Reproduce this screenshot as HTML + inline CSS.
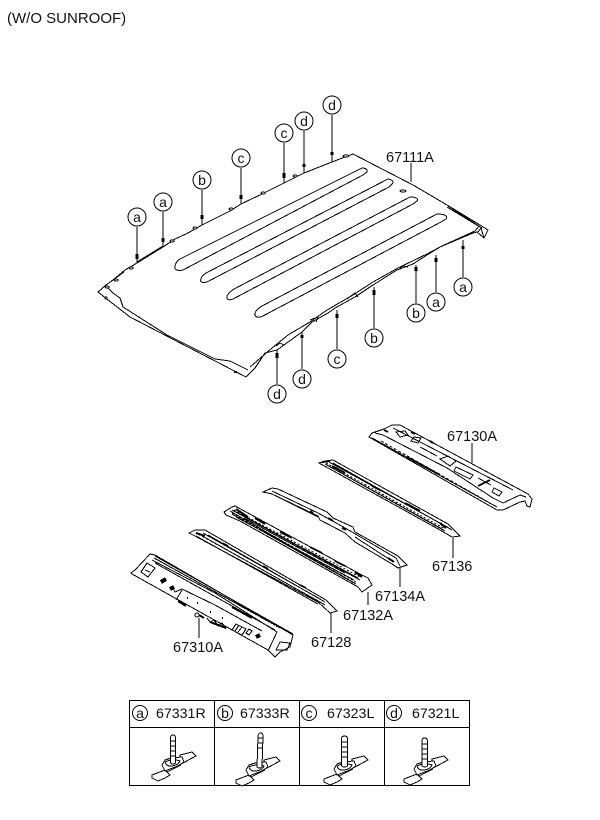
<!DOCTYPE html>
<html><head><meta charset="utf-8"><style>
html,body{margin:0;padding:0;background:#fff}
svg{display:block}
text{font-family:"Liberation Sans",sans-serif;fill:#111}
.l{font-size:14.5px}
.t{font-size:14.2px}
.c{font-size:14px;text-anchor:middle}
</style></head><body>
<svg width="600" height="820" viewBox="0 0 600 820" xmlns="http://www.w3.org/2000/svg" fill="none" stroke="#000" stroke-width="1" shape-rendering="crispEdges">
<defs>
<g id="base">
<path fill="#fff" d="M-21 12L-8 7L-3 12L-8 15L-15 18L-21 15ZM7 -8L19 -11L23 -7L10 0L8 -1Z"/>
<path fill="#fff" d="M-11 2L-8 -3L-2 -5L9 -6L11 -1L5 3L-3 6L-8 8Z"/>
<path d="M-8 -1Q0 -5 7 -2Q5 3-3 3Q-7 3-8 -1"/>
<path d="M-6 9L0 6L8 2"/>
</g>
</defs>
<text x="7" y="23" font-size="15" stroke="none">(W/O SUNROOF)</text>

<!-- roof outline -->
<path d="M98 292L106 285L113 280L125 270L137 263L163 247L175 239L186 234L195 229L202 225L230 211L241 204L262 194L284 183L304 173L332 162L345 157L353 154L413 185L447 205L480 225L488 230L484 238L477 232L473 233L440 247L427 255L413 264L397 270L373 285L355 297L335 308L328 313L312 322L302 332L277 350L265 353L255 368L246 377L130 317L112 303Z"/>
<path d="M107 287L113 293L120 298L123 307L167 335L215 359L230 361L248 370"/>
<path d="M250 367L272 348L288 335L310 322L327 310L353 295L373 282L398 268L427 254L442 246L475 231L479 226"/>
<path d="M447 207L480 227M448 206L482 228M478 232L481 228L484 238"/>
<path d="M106 285L124 272M137 262L163 246"/>
<path d="M276 346L280 343L284 345M310 320L318 317L316 322M347 299L355 293L358 297M398 270L403 266L408 267M426 255L431 252"/>
<g fill="#fff"><ellipse cx="107" cy="287" rx="2" ry="1"/><ellipse cx="116" cy="280" rx="2" ry="1"/><ellipse cx="131" cy="268" rx="2" ry="1"/><ellipse cx="172" cy="241" rx="2" ry="1"/><ellipse cx="195" cy="228" rx="2" ry="1"/><ellipse cx="231" cy="209" rx="2" ry="1"/><ellipse cx="263" cy="193" rx="2" ry="1"/><ellipse cx="295" cy="176" rx="2" ry="1"/><ellipse cx="346" cy="156" rx="3" ry="1"/><circle cx="106" cy="298" r="1"/></g>
<path stroke-width="2" d="M234 372H237"/>

<!-- ribs -->
<path d="M362 168C366 168 368 170 367 172L363 175L183 270C178 271 174 270 175 267C175 264 177 261 180 259Z"/>
<path d="M388 179C393 180 394 182 392 184L389 187L207 282C202 283 199 282 201 279C201 277 203 275 206 273Z"/>
<path d="M410 197C416 197 419 199 417 201L413 204L233 299C229 301 226 299 227 296C228 294 231 291 234 289Z"/>
<path d="M437 214C445 214 448 216 446 219L441 222L261 317C256 318 254 316 255 313C256 310 259 308 262 306Z"/>
<ellipse cx="403" cy="191" rx="3" ry="1"/>

<!-- callouts -->
<path d="M137 227V263M163 212V247M202 190V225M241 168V204M284 143V183M304 131V173M332 115V162M277 384V350M302 369V332M337 349V310M374 328V287M416 303V265M436 292V255M463 277V240"/>
<path stroke-width="3" d="M137 254V259M163 238V242M202 215V219M241 195V199M284 173V178M304 164V167M332 152V155M277 353V358M302 335V338M337 314V318M374 290V295M416 267V271M436 258V262M463 246V249"/>
<g fill="#fff" shape-rendering="auto">
<circle cx="137" cy="217" r="9"/><circle cx="163" cy="202" r="9"/><circle cx="202" cy="180" r="9"/><circle cx="241" cy="158" r="9"/><circle cx="284" cy="133" r="9"/><circle cx="304" cy="121" r="9"/><circle cx="332" cy="105" r="9"/>
<circle cx="277" cy="394" r="9"/><circle cx="302" cy="379" r="9"/><circle cx="337" cy="359" r="9"/><circle cx="374" cy="338" r="9"/><circle cx="416" cy="313" r="9"/><circle cx="436" cy="302" r="9"/><circle cx="463" cy="287" r="9"/>
</g>
<g stroke="none">
<text class="c" x="137" y="222">a</text><text class="c" x="163" y="207">a</text><text class="c" x="202" y="185">b</text><text class="c" x="241" y="163">c</text><text class="c" x="284" y="138">c</text><text class="c" x="304" y="126">d</text><text class="c" x="332" y="110">d</text>
<text class="c" x="277" y="399">d</text><text class="c" x="302" y="384">d</text><text class="c" x="337" y="364">c</text><text class="c" x="374" y="343">b</text><text class="c" x="416" y="318">b</text><text class="c" x="436" y="307">a</text><text class="c" x="463" y="292">a</text>
<text class="l" x="386" y="162">67111A</text>
<text class="l" x="447" y="441">67130A</text>
<text class="l" x="432" y="571">67136</text>
<text class="l" x="375" y="601">67134A</text>
<text class="l" x="343" y="620">67132A</text>
<text class="l" x="311" y="647">67128</text>
<text class="l" x="173" y="652">67310A</text>
</g>
<path d="M411 163V182M472 443V463M453 538V558M400 568V587M368 592V605M331 613V633M199 618V638"/>

<!-- 67130A -->
<path d="M369 437L372 433L384 429L392 425L400 425L528 494L532 499L530 507L527 506L525 501L520 502L503 510L497 510Z"/>
<path d="M375 433L383 435L447 468L493 498L503 503L520 495L526 497M393 428L513 490M372 438L497 507"/>
<path d="M396 432L405 431L408 435L400 437ZM414 437L421 438L418 443L411 441ZM440 459L448 456L456 461L450 466ZM456 467L473 475L470 479L454 471ZM494 488L502 492L499 496L492 492ZM420 447L437 456M478 478L491 485"/>
<path stroke-width="2" d="M407 457L440 475M478 486L490 480M384 430L388 432M411 432L415 434M430 441L433 443"/>
<path stroke-dasharray="3 2" d="M381 441L490 503"/>

<!-- 67136 -->
<path d="M319 463L325 461L333 460L448 524L460 536L452 537L440 530Z"/>
<path d="M325 464L445 531M329 462L449 528M331 463L447 527M327 465L442 529M333 463L452 530"/>
<path stroke-dasharray="2 2" d="M326 463L445 529"/>
<path stroke-width="2" d="M322 462L330 461M332 466L345 473M372 486L382 491M405 503L420 511M440 523L446 528"/>

<!-- 67134A -->
<path d="M263 492L272 488L278 489L327 512L333 518L353 527L355 532L398 556L407 565L398 568L392 564L355 542L345 533L320 520L318 516L272 494Z"/>
<path d="M272 491L318 513L338 524L352 532L396 558L400 566M270 493L318 517M355 537L392 561"/>
<path stroke-width="2" d="M328 518L333 521M342 528L346 530M388 558L394 562M310 511L313 513"/>

<!-- 67132A -->
<path d="M224 512L232 507L235 506L360 574L368 578L372 585L362 592L358 587L240 521L226 515Z"/>
<path d="M232 510L360 580M236 512L358 578M232 514L354 583M240 514L350 574M236 517L354 580M244 518L345 573M230 511L356 584"/>
<path stroke-dasharray="2 2" d="M234 510L360 577M232 513L356 582"/>
<path stroke-width="2" d="M236 509L248 517M255 518L265 524M280 532L292 538M310 547L322 553M335 561L345 566M355 572L362 577"/>

<!-- 67128 -->
<path d="M189 533L195 530L205 530L326 600L337 611L330 613L318 602L195 536Z"/>
<path d="M197 533L325 605M203 533L320 599M196 536L318 604M208 535L325 602"/>
<path stroke-dasharray="2 3" d="M198 534L322 603"/>
<path stroke-width="2" d="M196 533L205 536M222 543L228 546M263 566L268 569M300 585L306 588"/>

<!-- 67310A -->
<path d="M131 573L135 570L150 554L155 555L293 635L290 647L280 652L275 657L268 650L132 574Z"/>
<path d="M152 560L215 593L277 632L268 651M155 556L293 634M154 558L290 633M155 563L275 630M141 572L147 563L155 568L148 577ZM145 570L150 572"/>
<path stroke-dasharray="2 1" d="M158 560L280 628"/>
<path d="M173 588L175 592L182 589L215 605L262 631M182 590L176 600"/>
<path d="M276 650L280 642L290 643L287 650Z"/>
<path stroke-width="4" d="M161 582L166 579M170 589L174 587M256 637L260 635"/>
<path stroke-width="2" d="M232 607L252 618M178 601L186 606M199 615L204 618M210 622L226 628"/>
<path d="M232 630L236 624L246 629L242 635ZM235 631L239 625M238 632L242 627M246 633L249 629L252 631L249 635Z"/>
<path stroke-width="2" d="M187 598H188M197 603H198M210 612H211M222 618H223"/>
<path d="M207 618L210 622L214 620L218 626L222 623L226 629"/>
<circle cx="197" cy="615" r="2"/>

<!-- table -->
<path d="M129.500 700.500H469.500V785.500H129.500ZM129.500 727.500H469.500M214.500 700.500V785.500M299.500 700.500V785.500M384.500 700.500V785.500"/>
<g shape-rendering="auto"><circle cx="140" cy="713" r="7.500"/><circle cx="225" cy="713" r="7.500"/><circle cx="309" cy="713" r="7.500"/><circle cx="394" cy="713" r="7.500"/></g>
<g stroke="none">
<text class="c" x="140" y="718">a</text><text class="c" x="225" y="718">b</text><text class="c" x="309" y="718">c</text><text class="c" x="394" y="718">d</text>
<text class="t" x="156" y="718">67331R</text><text class="t" x="240" y="718">67333R</text><text class="t" x="327" y="718">67323L</text><text class="t" x="412" y="718">67321L</text>
</g>

<use href="#base" x="173" y="763"/>
<path fill="#fff" d="M170.500 763V738Q170.500 735 173 735Q175.500 735 175.500 738V763Q173 765 170.500 763ZM171 741H175M171 746H175M171 751H175M171 756H175"/>
<use href="#base" x="257" y="768"/>
<path fill="#fff" d="M257 767L258 736Q258.500 733 260.500 733Q263 733 263 736L262 767Q259.500 769 257 767ZM258 738H263M258 743H263M258 748H262"/>
<use href="#base" x="345" y="767"/>
<path fill="#fff" d="M341.500 766V739Q341.500 736 344.500 736Q347.500 736 347.500 739V766Q344.500 768 341.500 766ZM342 742H347M342 747H347M342 752H347M342 757H347"/>
<use href="#base" x="425" y="767"/>
<path fill="#fff" d="M422 766V741Q422 738 424.500 738Q427.500 738 427.500 741V766Q425 768 422 766ZM422 744H427M422 749H427M422 754H427M422 759H427"/>
</svg>
</body></html>
